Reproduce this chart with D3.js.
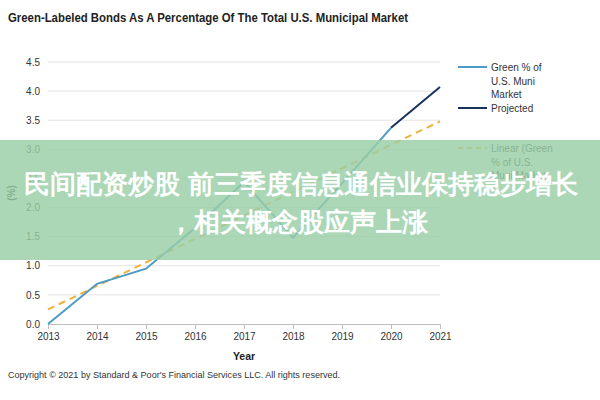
<!DOCTYPE html>
<html>
<head>
<meta charset="utf-8">
<script src="https://cdn.jsdelivr.net/npm/d3@7"></script>
<style>
  body { margin: 0; background: #fff; }
  text { font-family: "Liberation Sans", Arial, sans-serif; }
</style>
</head>
<body>
<div id="chart"></div>
<script>
const width = 600;
const height = 400;

// data
const years = [2013, 2014, 2015, 2016, 2017, 2018, 2019, 2020, 2021];
const greenShare = [0.0, 0.69, 0.95, 1.65, 2.44, 1.48, 2.42, 3.37];   // 2013-2020
const projected = [3.37, 4.07];                                      // 2020-2021
const projectedYears = [2020, 2021];
const trendYears = [2013, 2021];
const trendValues = [0.25, 3.48];
const yTicks = [0, 0.5, 1, 1.5, 2, 2.5, 3, 3.5, 4, 4.5];

const margin = { top: 62, right: 160, bottom: 76, left: 48 };

const svg = d3.select("#chart")
    .append("svg")
    .attr("width", width)
    .attr("height", height);

const x = d3.scaleLinear().domain([2013, 2021]).range([margin.left, width - margin.right]);
const y = d3.scaleLinear().domain([0, 4.5]).range([height - margin.bottom, margin.top]);

// title
svg.append("text")
    .attr("x", 8).attr("y", 22)
    .attr("font-size", 13).attr("font-weight", "bold").attr("fill", "#222")
    .attr("textLength", 400).attr("lengthAdjust", "spacingAndGlyphs")
    .text("Green-Labeled Bonds As A Percentage Of The Total U.S. Municipal Market");

// grid
svg.append("g")
    .selectAll("line")
    .data(yTicks.slice(1))
    .enter()
    .append("line")
    .attr("x1", x(2013)).attr("x2", x(2021))
    .attr("y1", d => y(d)).attr("y2", d => y(d))
    .attr("stroke", "#e3e3e3").attr("stroke-width", 1);

// y axis labels
const yAxis = svg.append("g")
    .attr("transform", `translate(${margin.left},0)`)
    .call(d3.axisLeft(y).tickValues(yTicks).tickFormat(d3.format(".1f")).tickSize(0).tickPadding(8));
yAxis.select(".domain").remove();
yAxis.selectAll("text").attr("font-size", 10).attr("fill", "#333")
    .attr("font-family", "Liberation Sans, Arial, sans-serif");

// x axis
const xAxis = svg.append("g")
    .attr("transform", `translate(0,${y(0)})`)
    .call(d3.axisBottom(x).tickValues(years).tickFormat(d3.format("d")).tickSize(5).tickPadding(4));
xAxis.select(".domain").attr("stroke", "#bdbdbd");
xAxis.selectAll(".tick line").attr("stroke", "#bdbdbd");
xAxis.selectAll("text").attr("font-size", 10).attr("fill", "#333")
    .attr("font-family", "Liberation Sans, Arial, sans-serif");

// axis titles
svg.append("text")
    .attr("x", (x(2013) + x(2021)) / 2).attr("y", 360)
    .attr("text-anchor", "middle").attr("font-size", 10.5).attr("font-weight", "bold").attr("fill", "#222")
    .text("Year");
svg.append("text")
    .attr("transform", `translate(15,${y(2.25)}) rotate(-90)`)
    .attr("text-anchor", "middle").attr("font-size", 10).attr("font-weight", "bold").attr("fill", "#222")
    .text("(%)");

// lines
const line = d3.line().x(d => x(d[0])).y(d => y(d[1]));

svg.append("path")
    .datum(trendYears.map((yr, i) => [yr, trendValues[i]]))
    .attr("d", line)
    .attr("fill", "none").attr("stroke", "#f0b03a").attr("stroke-width", 2)
    .attr("stroke-dasharray", "7,5");

svg.append("path")
    .datum(years.slice(0, greenShare.length).map((yr, i) => [yr, greenShare[i]]))
    .attr("d", line)
    .attr("fill", "none").attr("stroke", "#4b9bc6").attr("stroke-width", 2);

svg.append("path")
    .datum(projectedYears.map((yr, i) => [yr, projected[i]]))
    .attr("d", line)
    .attr("fill", "none").attr("stroke", "#17335c").attr("stroke-width", 2);

// legend
const legend = [
    { lines: ["Green % of", "U.S. Muni", "Market"], color: "#4b9bc6", dash: null, y: 67 },
    { lines: ["Projected"], color: "#17335c", dash: null, y: 108 },
    { lines: ["Linear (Green", "% of U.S.", "Muni Market)"], color: "#f0b03a", dash: "5,4", y: 148 }
];
const lg = svg.append("g");
legend.forEach(item => {
    lg.append("line")
        .attr("x1", 458).attr("x2", 487)
        .attr("y1", item.y).attr("y2", item.y)
        .attr("stroke", item.color).attr("stroke-width", 2)
        .attr("stroke-dasharray", item.dash);
    item.lines.forEach((t, i) => {
        lg.append("text")
            .attr("x", 491).attr("y", item.y + 4 + i * 13.5)
            .attr("font-size", 10).attr("fill", "#333")
            .text(t);
    });
});

// footer
svg.append("text")
    .attr("x", 8).attr("y", 378)
    .attr("font-size", 9.5).attr("fill", "#333")
    .attr("textLength", 332).attr("lengthAdjust", "spacingAndGlyphs")
    .text("Copyright \u00a9 2021 by Standard & Poor's Financial Services LLC. All rights reserved.");

// overlay banner
svg.append("rect")
    .attr("x", 0).attr("y", 140).attr("width", width).attr("height", 120)
    .attr("fill", "rgb(152, 206, 166)").attr("fill-opacity", 0.82);
const banner = ["民间配资炒股 前三季度信息通信业保持稳步增长", "，相关概念股应声上涨"];
svg.append("g")
    .selectAll("text")
    .data(banner)
    .enter()
    .append("text")
    .attr("x", (d, i) => i === 0 ? 301 : 298)
    .attr("y", (d, i) => 193 + i * 38)
    .attr("text-anchor", "middle")
    .attr("font-family", "Noto Sans CJK SC, sans-serif")
    .attr("font-size", 26).attr("font-weight", "bold").attr("fill", "#fff")
    .text(d => d);
</script>
</body>
</html>
